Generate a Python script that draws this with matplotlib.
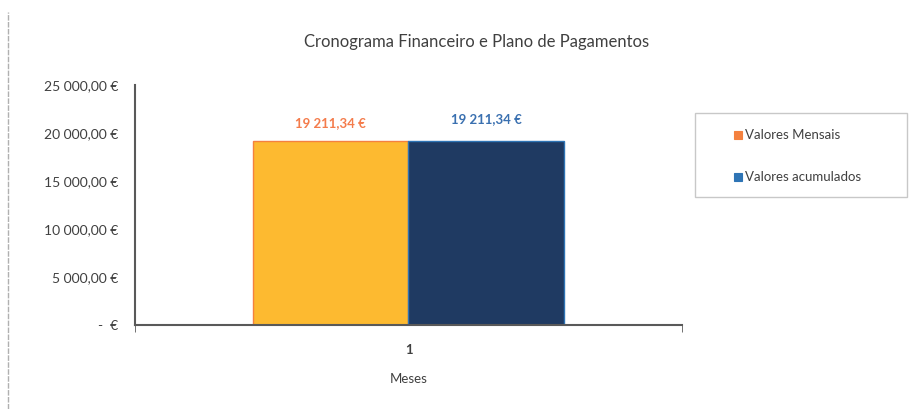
import matplotlib.pyplot as plt
from matplotlib.patches import Rectangle
from matplotlib.lines import Line2D
import numpy as np

plt.rcParams["font.family"] = ["Lato", "DejaVu Sans"]

# data
categories = ["1"]
series_names = ["Valores Mensais", "Valores acumulados"]
valores_mensais = [19211.34]
valores_acumulados = [19211.34]
y_ticks = [0, 5000, 10000, 15000, 20000, 25000]

FILL = ["#FDBA30", "#1F3A62"]
EDGE = ["#F4813F", "#2E74B5"]
LABEL_COL = ["#F47C4C", "#3A70B0"]
INK = "#404040"
SPINE = "#595959"
W, H = 919, 409


def euro(v):
    if v == 0:
        return "-  €"
    s = f"{v:,.2f}".replace(",", " ").replace(".", ",")
    return s + " €"


def fx(px):
    return px / W


def fy(py):
    return 1 - py / H


fig = plt.figure(figsize=(W / 100, H / 100), dpi=100, facecolor="white")
ax = fig.add_axes([fx(135), fy(325), fx(682 - 135), (325 - 85) / H])

x = np.arange(1, len(categories) + 1)
width = 0.284
for i, (name, vals) in enumerate(zip(series_names, [valores_mensais, valores_acumulados])):
    off = (i - 0.5) * width
    bars = ax.bar(x + off, vals, width, color=FILL[i], edgecolor=EDGE[i],
                  linewidth=1.0, label=name, zorder=2)
    for b in bars:
        dy = 8 if i == 0 else 11
        ax.annotate(euro(b.get_height()), xy=(b.get_x() + b.get_width() / 2, b.get_height()),
                    xytext=(0, dy), textcoords="offset points", ha="center", va="bottom",
                    fontsize=9.5, fontweight="bold", color=LABEL_COL[i])

ax.set_xlim(0.5, len(categories) + 0.5)
ax.set_ylim(0, 25000)
ax.set_yticks(y_ticks)
ax.set_yticklabels([euro(v) for v in y_ticks], fontsize=10, color=INK)
ax.set_xticks(x)
ax.set_xticklabels(categories, fontsize=9.5, fontweight="bold", color=INK)
ax.set_xticks([0.5, len(categories) + 0.5], minor=True)
ax.tick_params(axis="x", which="major", length=0, pad=14)
ax.tick_params(axis="x", which="minor", length=5, color=SPINE, direction="out")
ax.tick_params(axis="y", length=0, pad=12)

for s in ["top", "right"]:
    ax.spines[s].set_visible(False)
ax.spines["left"].set_color(SPINE)
ax.spines["bottom"].set_color(SPINE)
ax.spines["left"].set_linewidth(1.5)
ax.spines["bottom"].set_linewidth(1.5)

ax.set_xlabel("Meses", fontsize=9.5, color=INK, labelpad=12)

fig.text(fx(477), fy(42), "Cronograma Financeiro e Plano de Pagamentos",
         ha="center", va="center", fontsize=12, color=INK)

# legend box drawn by hand to match the original layout
fig.add_artist(Rectangle((fx(695), fy(197)), fx(907 - 695), (197 - 113) / H,
                         transform=fig.transFigure, facecolor="white",
                         edgecolor="#c8c8c8", linewidth=1.0))
for i, (name, row) in enumerate(zip(series_names, [135, 177])):
    fig.add_artist(Rectangle((fx(734), fy(row + 4)), fx(8), 8 / H, transform=fig.transFigure,
                             facecolor=EDGE[i], edgecolor=EDGE[i], linewidth=0.8))
    fig.text(fx(745), fy(row), name, ha="left", va="center", fontsize=9.5, color=INK)

# faint page border on the left
fig.add_artist(Line2D([fx(8), fx(8)], [0.0, fy(12)], transform=fig.transFigure,
                      color="#b0b0b0", linewidth=1, linestyle=(0, (4, 1))))

fig.savefig("out.png", dpi=100, facecolor="white")
